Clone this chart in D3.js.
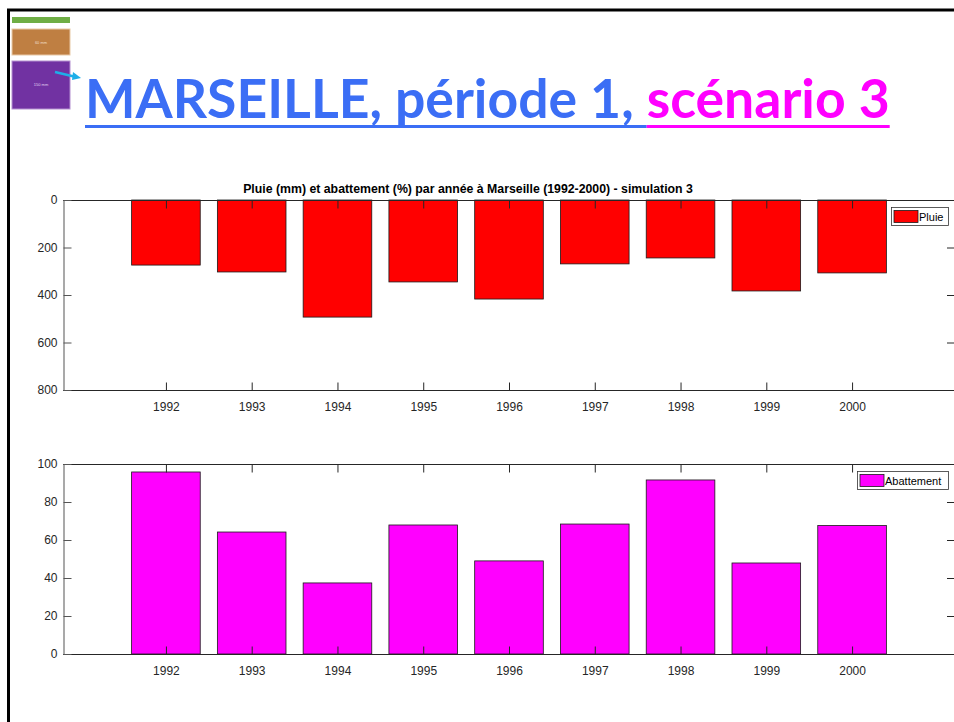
<!DOCTYPE html>
<html>
<head>
<meta charset="utf-8">
<script src="https://cdn.jsdelivr.net/npm/d3@7"></script>
<style>
  body { margin: 0; background: #fff; }
  svg { display: block; }
</style>
</head>
<body>
<script>
// data
let years = [1992, 1993, 1994, 1995, 1996, 1997, 1998, 1999, 2000];
let pluie = [274, 303, 493, 345, 417, 269, 244, 383, 307];
let abattement = [95.8, 64.2, 37.4, 67.9, 49, 68.4, 91.6, 47.9, 67.6];
let pluieTicks = [0, 200, 400, 600, 800];
let abatTicks = [0, 20, 40, 60, 80, 100];

let W = 954, H = 722;
let svg = d3.select("body").append("svg").attr("width", W).attr("height", H);

// slide frame
svg.append("line").attr("x1", 8.5).attr("x2", 8.5).attr("y1", 9).attr("y2", H)
   .attr("stroke", "#000").attr("stroke-width", 3);
svg.append("line").attr("x1", 7).attr("x2", W).attr("y1", 10).attr("y2", 10)
   .attr("stroke", "#000").attr("stroke-width", 3);

// little legend pictograms top-left
svg.append("rect").attr("x", 12).attr("y", 17).attr("width", 58).attr("height", 6).attr("fill", "#6fae45");
svg.append("rect").attr("x", 12).attr("y", 29).attr("width", 58).attr("height", 26).attr("fill", "#bf7f42")
   .attr("stroke", "#e8c9a6").attr("stroke-width", 1);
svg.append("rect").attr("x", 12).attr("y", 61).attr("width", 58).attr("height", 48).attr("fill", "#7132a2")
   .attr("stroke", "#b48fd0").attr("stroke-width", 1);
svg.append("text").attr("x", 41).attr("y", 44).attr("text-anchor", "middle")
   .style("font", "4px 'Liberation Sans'").attr("fill", "#f0dcc8").text("60 mm");
svg.append("text").attr("x", 41).attr("y", 86).attr("text-anchor", "middle")
   .style("font", "4px 'Liberation Sans'").attr("fill", "#e0d0f0").text("150 mm");
svg.append("line").attr("x1", 55).attr("y1", 72).attr("x2", 76).attr("y2", 77)
   .attr("stroke", "#1eaee8").attr("stroke-width", 2.5);
svg.append("path").attr("d", "M81,78 L73,72 L72,80 Z").attr("fill", "#1eaee8");

// slide title
let blue = "#3b6ef5", magenta = "#ff00ff";
let title = svg.append("text").attr("x", 85).attr("y", 118)
   .style("font-family", "Lato, 'Open Sans', sans-serif").style("font-weight", "bold")
   .style("font-size", "52px");
let t1 = title.append("tspan").attr("fill", blue).text("MARSEILLE, période 1, ");
let t2 = title.append("tspan").attr("fill", magenta).text("scénario 3");
// fit the title to its width on the slide
let tw = title.node().getComputedTextLength();
title.style("font-size", (52 * 805 / tw) + "px");
let w1 = t1.node().getComputedTextLength();
let w2 = t2.node().getComputedTextLength();
svg.append("rect").attr("x", 85).attr("y", 125).attr("width", w1).attr("height", 3).attr("fill", blue);
svg.append("rect").attr("x", 85 + w1).attr("y", 125).attr("width", w2).attr("height", 3).attr("fill", magenta);

// shared x scale
let left = 63, right = 955;
let x = d3.scaleLinear().domain([1990.8, 2001.2]).range([left, right]);
let barW = (x(1993) - x(1992)) * 0.8;

function panel(top, bottom, values, ticks, yDomain, fill, label, legendW) {
	let y = d3.scaleLinear().domain(yDomain).range([top, bottom]);
	let g = svg.append("g");
	let base = Math.min(yDomain[0], yDomain[1]);

	// bars
	g.selectAll("rect.bar").data(values).enter().append("rect")
		.attr("x", (d, i) => x(years[i]) - barW / 2)
		.attr("y", d => Math.min(y(d), y(base)))
		.attr("width", barW)
		.attr("height", d => Math.abs(y(d) - y(base)))
		.attr("fill", fill)
		.attr("stroke", "#1a1a1a")
		.attr("stroke-width", 0.8);

	// box lines
	g.append("line").attr("x1", left).attr("x2", right).attr("y1", top + 0.5).attr("y2", top + 0.5)
		.attr("stroke", "#262626");
	g.append("line").attr("x1", left).attr("x2", right).attr("y1", bottom + 0.5).attr("y2", bottom + 0.5)
		.attr("stroke", "#262626");

	// x axes (bottom with labels, top mirrored)
	let xb = d3.axisBottom(x).tickValues(years).tickFormat(d3.format("d")).tickSizeInner(-8).tickSizeOuter(0).tickPadding(12);
	let gxb = g.append("g").attr("transform", "translate(0," + (bottom + 0.5) + ")").call(xb);
	let xt = d3.axisTop(x).tickValues(years).tickFormat("").tickSizeInner(-8).tickSizeOuter(0);
	let gxt = g.append("g").attr("transform", "translate(0," + (top + 0.5) + ")").call(xt);
	[gxb, gxt].forEach(a => {
		a.select(".domain").remove();
		a.selectAll("line").attr("stroke", "#262626");
	});

	// y axes
	let yl = d3.axisLeft(y).tickValues(ticks).tickSizeInner(-8).tickSizeOuter(0).tickPadding(6);
	let gyl = g.append("g").attr("transform", "translate(" + (left + 0.5) + ",0)").call(yl);
	gyl.select(".domain").attr("stroke", "#8c8c8c").attr("stroke-width", 1.5);
	gyl.selectAll("line").attr("stroke", "#555");
	let yr = d3.axisRight(y).tickValues(ticks).tickFormat("").tickSizeInner(-7).tickSizeOuter(0);
	let gyr = g.append("g").attr("transform", "translate(" + (right - 1) + ",0)").call(yr);
	gyr.select(".domain").remove();
	gyr.selectAll("line").attr("stroke", "#262626");

	g.selectAll(".tick text").attr("fill", "#262626")
		.style("font-family", "'Liberation Sans', Arial, sans-serif").style("font-size", "12px");

	// legend
	let lx = 948 - legendW, ly = top + 7;
	g.append("rect").attr("x", lx + 0.5).attr("y", ly + 0.5).attr("width", legendW).attr("height", 18)
		.attr("fill", "#fff").attr("stroke", "#333").attr("stroke-width", 0.8);
	g.append("rect").attr("x", lx + 3).attr("y", ly + 3.5).attr("width", 24).attr("height", 12)
		.attr("fill", fill).attr("stroke", "#1a1a1a").attr("stroke-width", 0.8);
	g.append("text").attr("x", lx + 28).attr("y", ly + 14)
		.style("font-family", "'Liberation Sans', Arial, sans-serif").style("font-size", "11px")
		.attr("fill", "#000").text(label);
	return g;
}

panel(200, 390, pluie, pluieTicks, [0, 800], "#ff0000", "Pluie", 57);
panel(464, 654, abattement, abatTicks, [100, 0], "#ff00ff", "Abattement", 91);

// chart title
svg.append("text").attr("x", 468).attr("y", 193).attr("text-anchor", "middle")
	.style("font-family", "'Liberation Sans', Arial, sans-serif").style("font-size", "12.3px").style("font-weight", "bold")
	.attr("fill", "#000")
	.text("Pluie (mm) et abattement (%) par année à Marseille (1992-2000) - simulation 3");
</script>
</body>
</html>
